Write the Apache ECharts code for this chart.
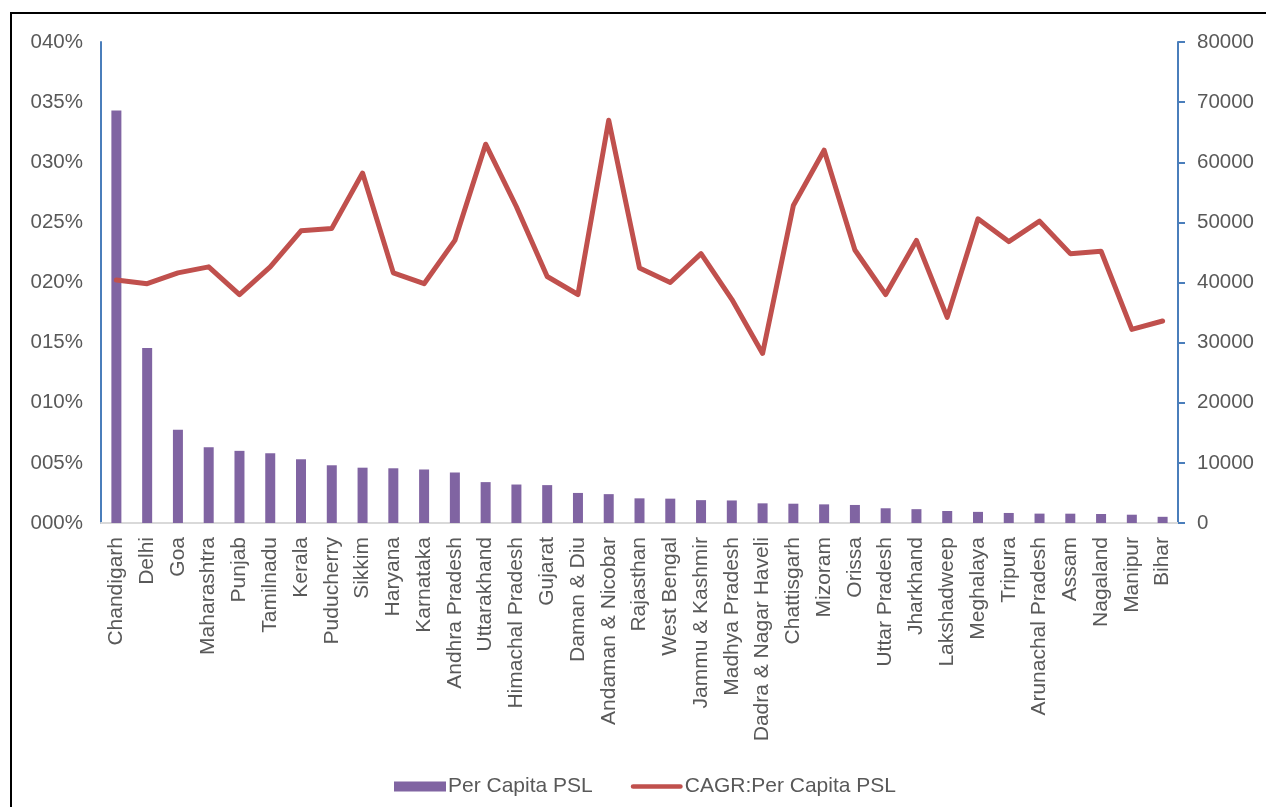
<!DOCTYPE html>
<html>
<head>
<meta charset="utf-8">
<script src="https://cdn.jsdelivr.net/npm/echarts@6/dist/echarts.min.js"></script>
<style>
  html, body { margin: 0; padding: 0; background: #fff; overflow: hidden; }
  #frame { position: absolute; left: 10px; top: 12px; width: 1300px; height: 850px; border: 2px solid #000; box-sizing: border-box; }
  #chart { position: absolute; left: 0; top: 0; width: 1266px; height: 807px; }
</style>
</head>
<body>
<div id="frame"></div>
<div id="chart"></div>
<script>
const states = ["Chandigarh","Delhi","Goa","Maharashtra","Punjab","Tamilnadu","Kerala","Puducherry","Sikkim","Haryana","Karnataka","Andhra Pradesh","Uttarakhand","Himachal Pradesh","Gujarat","Daman & Diu","Andaman & Nicobar","Rajasthan","West Bengal","Jammu & Kashmir","Madhya Pradesh","Dadra & Nagar Haveli","Chattisgarh","Mizoram","Orissa","Uttar Pradesh","Jharkhand","Lakshadweep","Meghalaya","Tripura","Arunachal Pradesh","Assam","Nagaland","Manipur","Bihar"];

const perCapitaPSL = [68600,29100,15500,12600,12000,11600,10600,9600,9200,9100,8900,8400,6800,6400,6300,5000,4800,4100,4050,3800,3750,3270,3210,3100,3000,2450,2300,2000,1850,1670,1560,1550,1500,1380,1030];

const cagrPerCapitaPSL = [20.2,19.9,20.8,21.3,19.0,21.3,24.3,24.5,29.1,20.8,19.9,23.5,31.5,26.3,20.5,19.0,33.5,21.2,20.0,22.4,18.6,14.1,26.4,31.0,22.7,19.0,23.5,17.1,25.3,23.4,25.1,22.4,22.6,16.1,16.8];

const leftTicks = { min: 0, max: 40, interval: 5 };
const rightTicks = { min: 0, max: 80000, interval: 10000 };

const textColor = '#595959';
const font = 'Liberation Sans, Arial, sans-serif';
const chart = echarts.init(document.getElementById('chart'));
chart.setOption({
  animation: false,
  textStyle: { fontFamily: font, color: textColor },
  grid: { left: 101, right: 88, top: 42, bottom: 284, containLabel: false },
  legend: {
    left: 389, top: 771,
    itemWidth: 52, itemHeight: 10, itemGap: 38,
    textStyle: { fontSize: 21, color: textColor, fontFamily: font, padding: [0,0,0,-3] },
    data: [
      { name: 'Per Capita PSL', icon: 'rect' },
      { name: 'CAGR:Per Capita PSL', icon: 'path://M2.5,0 H52.5 A2.5,2.5 0 0 1 52.5,5 H2.5 A2.5,2.5 0 0 1 2.5,0 Z', itemStyle: { color: '#c0504d' } }
    ]
  },
  xAxis: {
    type: 'category',
    data: states,
    boundaryGap: true,
    axisLine: { show: true, lineStyle: { color: '#d9d9d9', width: 2 } },
    axisTick: { show: false },
    axisLabel: { rotate: 90, interval: 0, fontSize: 21, color: textColor, margin: 14, fontFamily: font }
  },
  yAxis: [
    {
      type: 'value', position: 'left',
      min: leftTicks.min, max: leftTicks.max, interval: leftTicks.interval,
      splitLine: { show: false },
      axisLine: { show: true, lineStyle: { color: '#4a7ebb', width: 2 } },
      axisTick: { show: false },
      axisLabel: { fontSize: 20.5, color: textColor, margin: 18, fontFamily: font,
        formatter: v => String(v).padStart(3, '0') + '%' }
    },
    {
      type: 'value', position: 'right',
      min: rightTicks.min, max: rightTicks.max, interval: rightTicks.interval,
      splitLine: { show: false },
      axisLine: { show: true, lineStyle: { color: '#4a7ebb', width: 2 } },
      axisTick: { show: true, length: 7, lineStyle: { color: '#4a7ebb', width: 2 } },
      axisLabel: { fontSize: 20.5, color: textColor, margin: 19, fontFamily: font,
        formatter: v => String(v) }
    }
  ],
  series: [
    {
      name: 'Per Capita PSL', type: 'bar', yAxisIndex: 1,
      data: perCapitaPSL, barWidth: 10,
      itemStyle: { color: '#8064a2' }
    },
    {
      name: 'CAGR:Per Capita PSL', type: 'line', yAxisIndex: 0,
      data: cagrPerCapitaPSL, symbol: 'none',
      lineStyle: { color: '#c0504d', width: 5, cap: 'round', join: 'round' },
      itemStyle: { color: '#c0504d' }
    }
  ]
});
</script>
</body>
</html>
